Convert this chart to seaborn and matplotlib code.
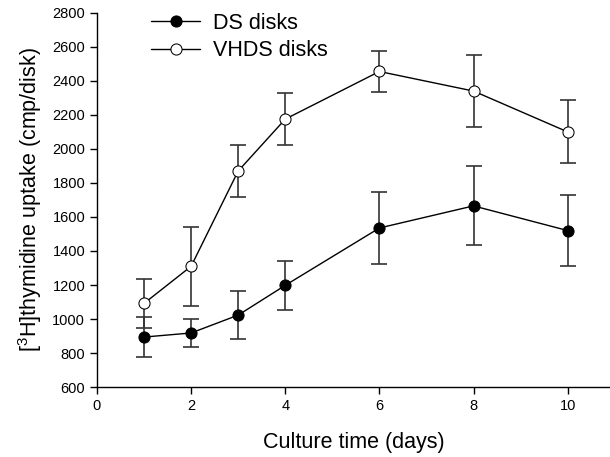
import pandas as pd
import matplotlib
matplotlib.use("Agg")
import matplotlib.pyplot as plt
import seaborn as sns

# culture days
days = [1, 2, 3, 4, 6, 8, 10]

# [3H]thymidine uptake (cmp/disk), mean and error
ds_mean = [894, 918, 1023, 1198, 1535, 1665, 1520]
ds_err = [120, 85, 140, 145, 210, 232, 210]
vhds_mean = [1092, 1310, 1870, 2175, 2455, 2340, 2100]
vhds_err = [143, 232, 150, 155, 120, 210, 185]

sns.set_style("ticks", {"text.color": "black", "axes.labelcolor": "black",
                        "xtick.color": "black", "ytick.color": "black",
                        "axes.edgecolor": "black"})
plt.rcParams["font.family"] = ["Liberation Sans", "DejaVu Sans"]

fig = plt.figure(figsize=(6.1, 4.57), dpi=100)
ax = fig.add_axes([0.159, 0.153, 0.841, 0.819])

for m, e in [(ds_mean, ds_err), (vhds_mean, vhds_err)]:
    ax.errorbar(days, m, yerr=e, fmt="none", ecolor="#333333",
                elinewidth=1.2, capsize=6, capthick=1.2, zorder=1)

sns.lineplot(x=days, y=ds_mean, color="black", marker="o", markersize=8,
             mfc="black", mec="black", linewidth=1, label="DS disks",
             ax=ax, zorder=3)
sns.lineplot(x=days, y=vhds_mean, color="black", marker="o", markersize=8,
             mfc="white", mec="black", linewidth=1, label="VHDS disks",
             ax=ax, zorder=3)

ax.legend(loc="upper left", bbox_to_anchor=(0.08, 1.035),
          frameon=False, fontsize=15.5, handlelength=2.3, handletextpad=0.6,
          labelspacing=0.3, borderaxespad=0.2)

ax.set_xlim(0, 10.9)
ax.set_ylim(600, 2800)
ax.set_xticks([0, 2, 4, 6, 8, 10])
ax.set_yticks(range(600, 2801, 200))
ax.tick_params(labelsize=10.5, direction="out", length=5, width=1)
ax.set_xlabel("Culture time (days)", fontsize=15.5, labelpad=14)
ax.set_ylabel(r"[$\mathregular{^3}$H]thymidine uptake (cmp/disk)", fontsize=15.5,
              labelpad=6)
sns.despine(ax=ax)
for s in ["left", "bottom"]:
    ax.spines[s].set_linewidth(1)

fig.savefig("out.png", dpi=100)
